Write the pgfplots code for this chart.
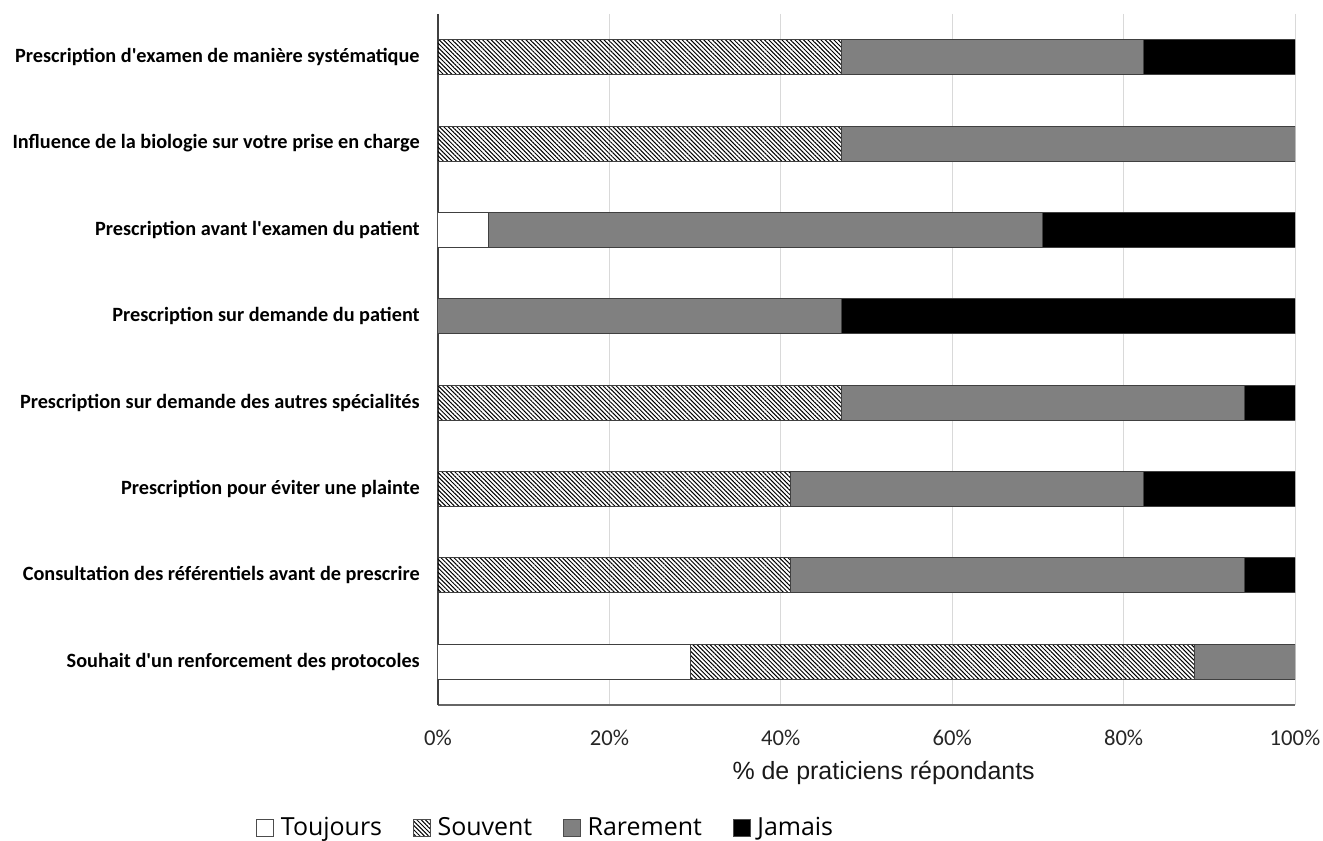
\documentclass[border=0pt]{standalone}
\usepackage{pgfplots}
\pgfplotsset{compat=1.18}
\usetikzlibrary{patterns.meta}
\usepackage{fontspec}
\setmainfont{Carlito}
\newfontfamily\calf{Carlito}
\newfontfamily\arialf{Liberation Sans}
\newfontfamily\legf{Open Sans}
\definecolor{edge}{HTML}{404040}
\definecolor{rare}{HTML}{808080}
\definecolor{gridc}{HTML}{D9D9D9}
\begin{document}
\begin{tikzpicture}
\begin{axis}[
  scale only axis,
  width=642.75pt, height=518.25pt,
  xbar stacked,
  bar width=26.25pt,
  xmin=0, xmax=100,
  ymin=-0.5, ymax=7.5,
  y dir=reverse,
  ytick={0,1,2,3,4,5,6,7},
  yticklabels={Prescription d'examen de manière systématique,
    Influence de la biologie sur votre prise en charge,
    Prescription avant l'examen du patient,
    Prescription sur demande du patient,
    Prescription sur demande des autres spécialités,
    Prescription pour éviter une plainte,
    Consultation des référentiels avant de prescrire,
    Souhait d'un renforcement des protocoles},
  yticklabel style={font=\calf\bfseries\fontsize{15.2}{17}\selectfont, anchor=east, inner sep=0pt, xshift=-13.5pt},
  xtick={0,20,40,60,80,100},
  xticklabels={0\%,20\%,40\%,60\%,80\%,100\%},
  xticklabel style={font=\fontsize{17}{20}\selectfont, anchor=center, inner sep=0pt, yshift=-24.75pt, text=black!85},
  major tick length=0pt,
  xmajorgrids, grid style={gridc, line width=0.75pt},
  axis x line*=bottom, axis y line*=left,
  x axis line style={draw=black!60, line width=1pt},
  y axis line style={draw=black!75, line width=0.9pt},
  xlabel={\arialf \% de praticiens répondants},
  xlabel style={font=\fontsize{18.7}{22}\selectfont, at={(axis description cs:0.52,0)}, anchor=center, yshift=-51pt, text=black!90},
  legend columns=4,
  legend style={draw=none, font=\legf\fontsize{18.7}{22}\selectfont, at={(0.126,-0.182)}, anchor=center,
    nodes={text height=0.75em, text depth=0.3em},
    /tikz/every even column/.append style={column sep=21pt}, inner sep=0pt,
    /tikz/every odd column/.append style={column sep=3pt}},
  legend image code/.code={\draw[#1, draw=black!70, line width=0.6pt] (0pt,-3pt) rectangle (13pt,9.6pt);},
  every axis plot/.append style={draw=edge, line width=0.75pt},
]
\addplot[fill=white] coordinates {(0,0) (0,1) (5.88,2) (0,3) (0,4) (0,5) (0,6) (29.41,7)};
\addplot[pattern={Lines[angle=-45,distance=2.3pt,line width=0.75pt]}] coordinates {(47.06,0) (47.06,1) (0,2) (0,3) (47.06,4) (41.18,5) (41.18,6) (58.82,7)};
\addplot[fill=rare] coordinates {(35.29,0) (52.94,1) (64.71,2) (47.06,3) (47.06,4) (41.17,5) (52.94,6) (11.77,7)};
\addplot[fill=black] coordinates {(17.65,0) (0,1) (29.41,2) (52.94,3) (5.88,4) (17.65,5) (5.88,6) (0,7)};
\legend{Toujours,Souvent,Rarement,Jamais}
\end{axis}
\pgfresetboundingbox
\useasboundingbox (-328.5pt,-102pt) rectangle (663.75pt,528.75pt);
\end{tikzpicture}
\end{document}
